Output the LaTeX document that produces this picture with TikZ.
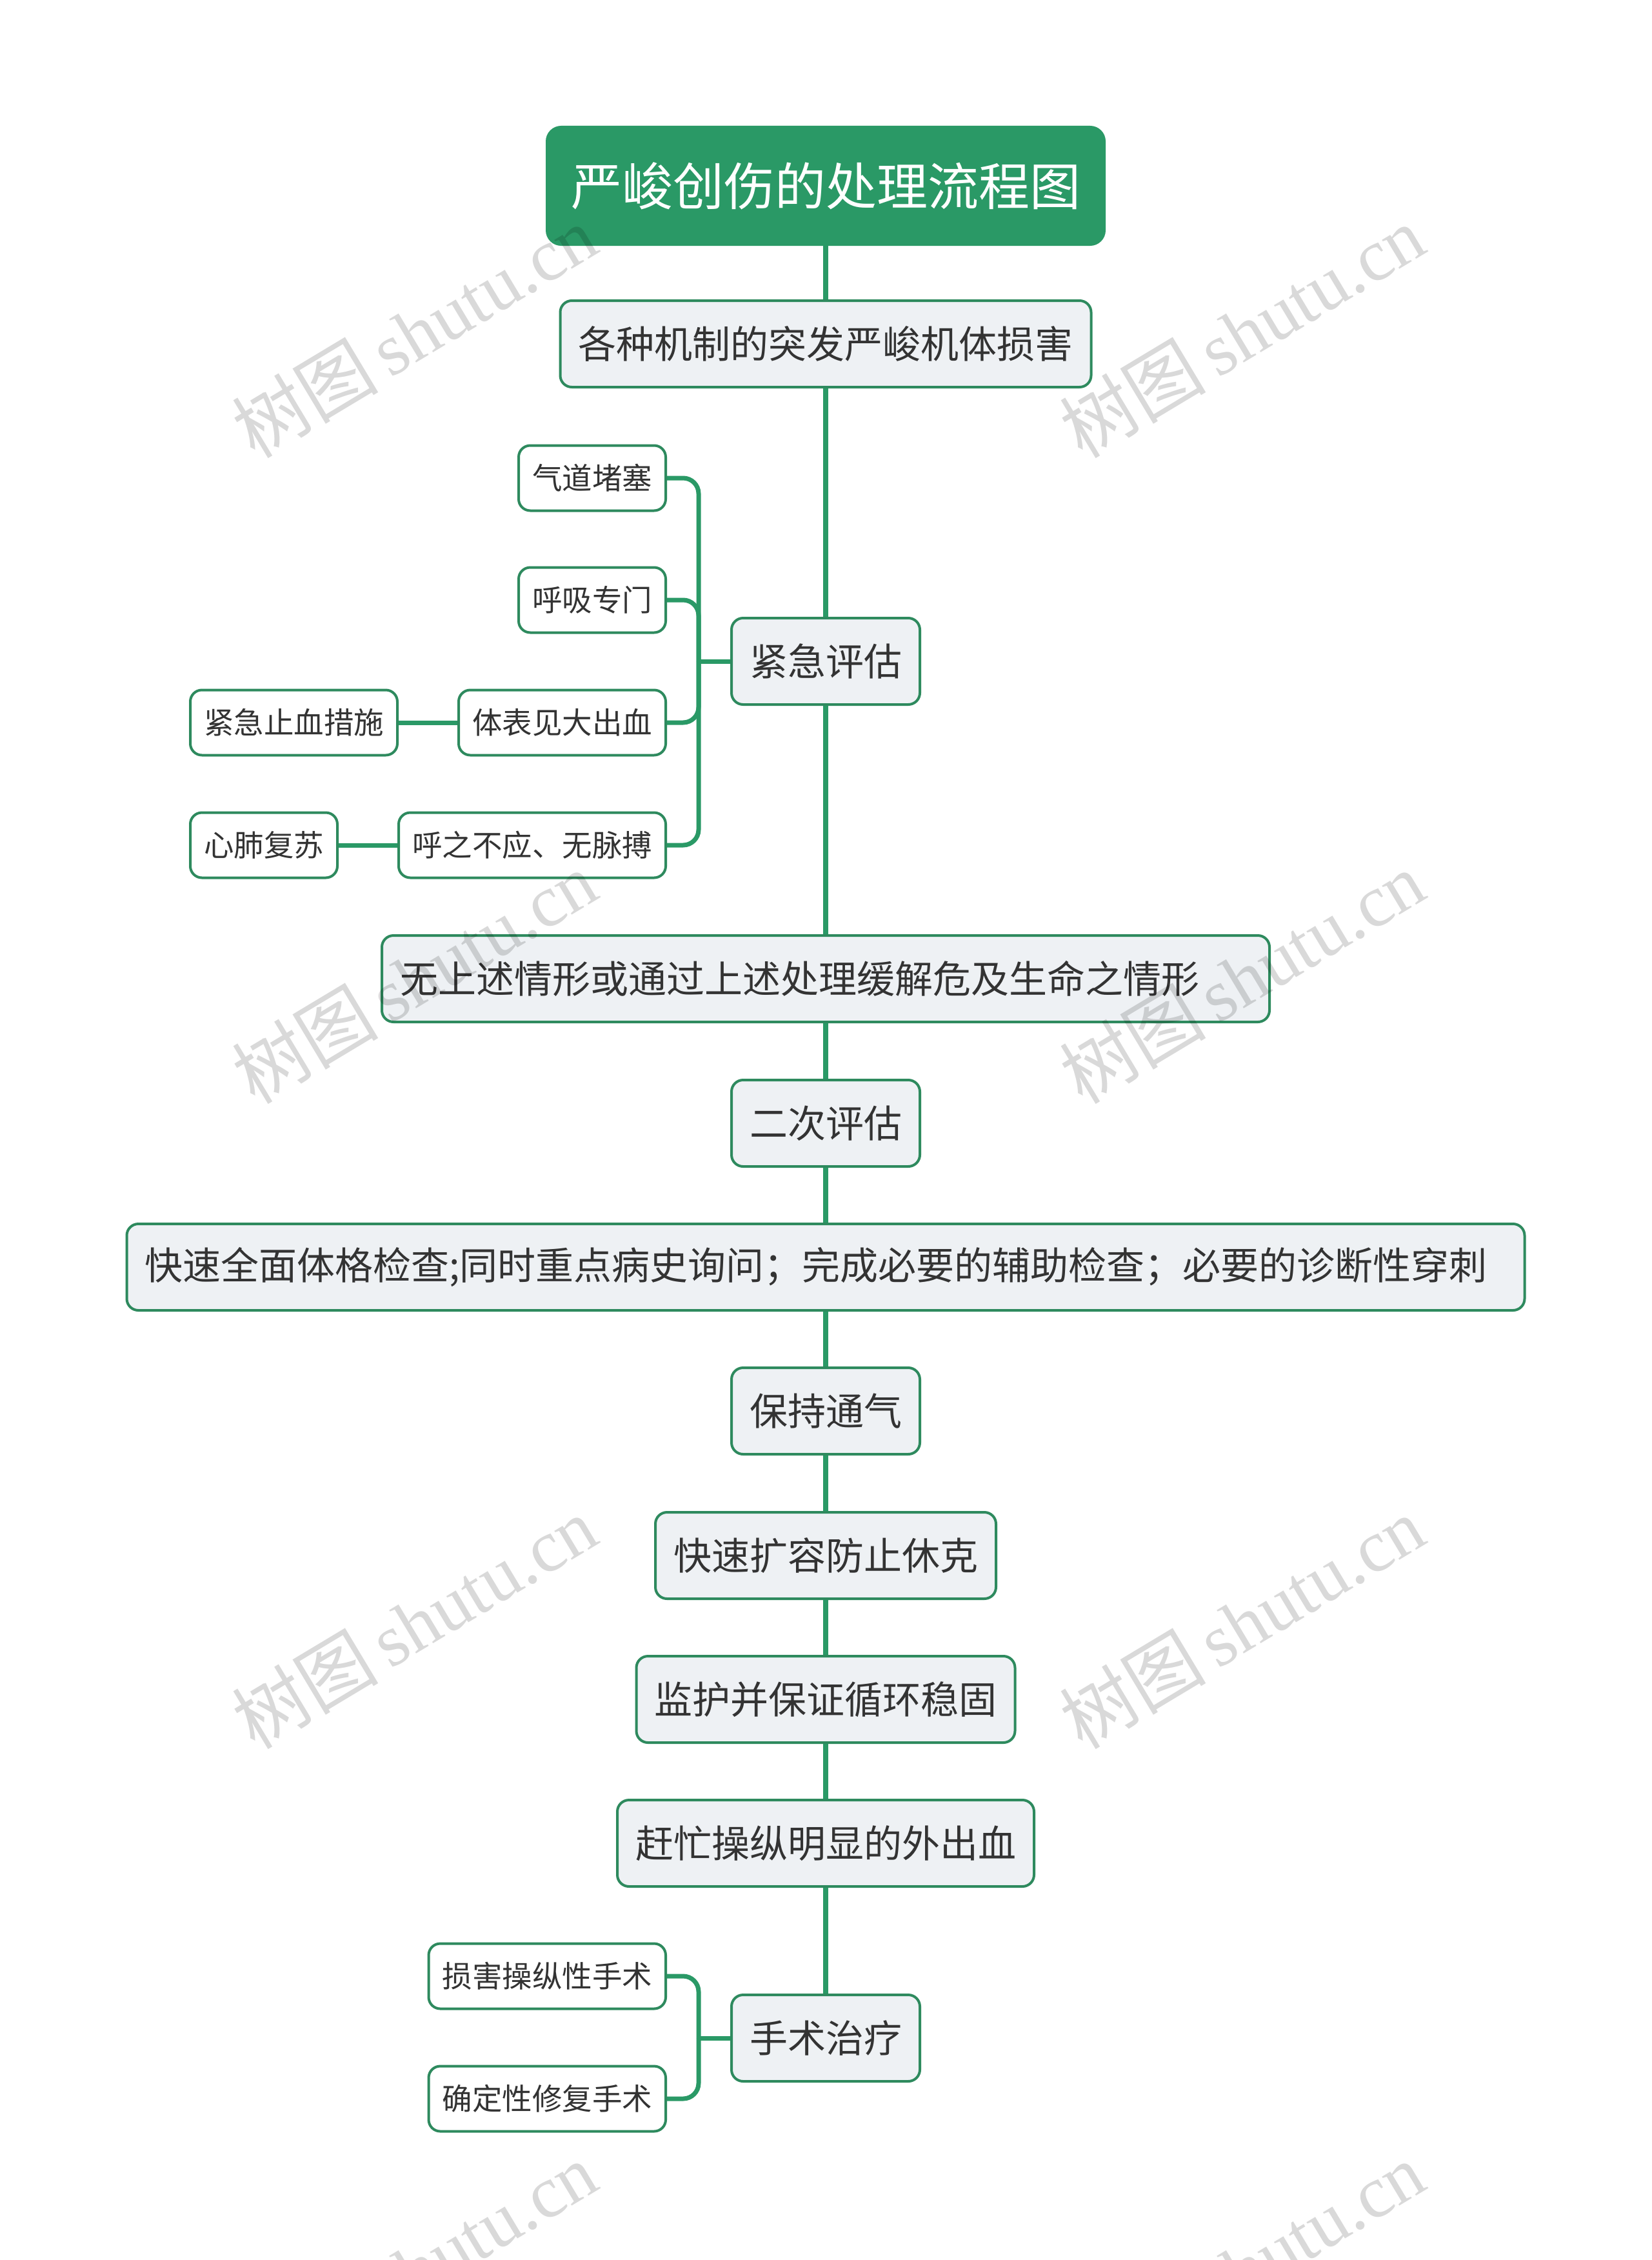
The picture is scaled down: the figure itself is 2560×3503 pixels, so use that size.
\documentclass[tikz,border=0pt]{standalone}
\usepackage{fontspec}
\newfontfamily\cjk{Noto Sans CJK SC}
\newfontfamily\wmserif{Liberation Serif}
\definecolor{titlegreen}{HTML}{2A9966}
\definecolor{linegreen}{HTML}{2A9966}
\definecolor{bordergreen}{HTML}{2E8A5E}
\definecolor{nodegray}{HTML}{EEF1F4}
\definecolor{textgray}{HTML}{333333}
\tikzset{
  basebox/.style={rounded corners=18pt, line width=4pt, draw=bordergreen, text=textgray, inner ysep=0pt},
  mainbox/.style={basebox, fill=nodegray, font=\cjk\fontsize{59}{70}\selectfont, minimum height=134pt, inner xsep=28pt},
  smallbox/.style={basebox, fill=white, font=\cjk\fontsize{46.5}{55}\selectfont, minimum height=101pt, inner xsep=21pt},
  titlebox/.style={basebox, fill=titlegreen, draw=titlegreen, text=white, font=\cjk\fontsize{79}{90}\selectfont, minimum height=182pt, inner xsep=37pt, rounded corners=22pt},
  mainlink/.style={draw=linegreen, line width=8pt},
  sublink/.style={draw=linegreen, line width=7pt, rounded corners=24pt},
  watermark/.style={rotate=31, text=black, text opacity=0.15, font=\fontsize{114}{124}\selectfont},
}
\begin{document}
\begin{tikzpicture}[x=1pt,y=-1pt]
\path[use as bounding box, fill=white] (0,0) rectangle (2560,3503);

% main column
\node[titlebox] (title) at (1280,288) {严峻创伤的处理流程图};
\node[mainbox] (n1) at (1280,533) {各种机制的突发严峻机体损害};
\node[mainbox] (n2) at (1280,1025) {紧急评估};
\node[mainbox, text width=1320pt, align=left] (n3) at (1280,1517) {无上述情形或通过上述处理缓解危及生命之情形};
\node[mainbox] (n4) at (1280,1741) {二次评估};
\node[mainbox, text width=2111pt, align=left] (n5) at (1280,1964) {快速全面体格检查;同时重点病史询问；完成必要的辅助检查；必要的诊断性穿刺};
\node[mainbox] (n6) at (1280,2187) {保持通气};
\node[mainbox] (n7) at (1280,2411) {快速扩容防止休克};
\node[mainbox] (n8) at (1280,2634) {监护并保证循环稳固};
\node[mainbox] (n9) at (1280,2857) {赶忙操纵明显的外出血};
\node[mainbox] (n10) at (1280,3159) {手术治疗};

% branches of 紧急评估
\node[smallbox, anchor=east] (a1) at (1034,741) {气道堵塞};
\node[smallbox, anchor=east] (a2) at (1034,930) {呼吸专门};
\node[smallbox, anchor=east] (a3) at (1034,1120) {体表见大出血};
\node[smallbox, anchor=east] (a4) at (1034,1310) {呼之不应、无脉搏};
\node[smallbox, anchor=west] (b3) at (293,1120) {紧急止血措施};
\node[smallbox, anchor=west] (b4) at (293,1310) {心肺复苏};

% branches of 手术治疗
\node[smallbox, anchor=east] (c1) at (1034,3063) {损害操纵性手术};
\node[smallbox, anchor=east] (c2) at (1034,3253) {确定性修复手术};

\coordinate (ja) at (1083,1025);
\coordinate (jc) at (1083,3159);

% main links
\draw[mainlink] (title.south) -- (n1.north);
\draw[mainlink] (n1.south) -- (n2.north);
\draw[mainlink] (n2.south) -- (n3.north -| n2.south);
\draw[mainlink] (n3.south -| n4.north) -- (n4.north);
\draw[mainlink] (n4.south) -- (n5.north -| n4.south);
\draw[mainlink] (n5.south -| n6.north) -- (n6.north);
\draw[mainlink] (n6.south) -- (n7.north);
\draw[mainlink] (n7.south) -- (n8.north);
\draw[mainlink] (n8.south) -- (n9.north);
\draw[mainlink] (n9.south) -- (n10.north);

% bracket of 紧急评估
\draw[mainlink, line width=7pt] (n2.west) -- (ja);
\draw[sublink] (ja) -- (ja |- a1.east) -- (a1.east);
\draw[sublink] (ja) -- (ja |- a2.east) -- (a2.east);
\draw[sublink] (ja) -- (ja |- a3.east) -- (a3.east);
\draw[sublink] (ja) -- (ja |- a4.east) -- (a4.east);
\draw[sublink] (b3.east) -- (a3.west);
\draw[sublink] (b4.east) -- (a4.west);

% bracket of 手术治疗
\draw[mainlink, line width=7pt] (n10.west) -- (jc);
\draw[sublink] (jc) -- (jc |- c1.east) -- (c1.east);
\draw[sublink] (jc) -- (jc |- c2.east) -- (c2.east);

% watermarks
\begin{scope}
\clip (0,0) rectangle (2560,3503);
\foreach \wx/\wy/\wn in {642/514/1, 1925/514/2, 642/1515/3, 1925/1515/4, 642/2515/5, 1925/2515/6, 642/3516/7, 1925/3516/8}{
  \node[watermark] (wm\wn) at (\wx,\wy) {{\cjk 树图}\hspace{0.15em}{\wmserif shutu.cn}};
}
\end{scope}
\end{tikzpicture}
\end{document}
